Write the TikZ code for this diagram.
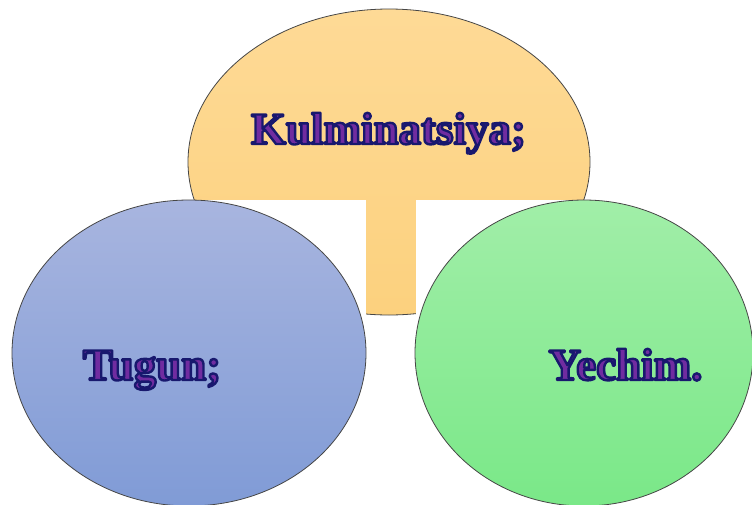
\documentclass[tikz,border=0pt]{standalone}
\usepackage{fontspec}
\setmainfont{Liberation Serif}
\definecolor{orgtop}{RGB}{254,218,150}
\definecolor{orgbot}{RGB}{252,209,126}
\definecolor{blutop}{RGB}{168,181,223}
\definecolor{blubot}{RGB}{128,155,214}
\definecolor{grntop}{RGB}{161,238,168}
\definecolor{grnbot}{RGB}{122,232,136}
\definecolor{txtfill}{RGB}{112,44,160}
\definecolor{edge}{RGB}{70,70,70}
\tikzset{
  bubble/.style={draw=edge, line width=0.8pt},
  label/.style={anchor=base, inner sep=0pt, font=\fontsize{45}{50}\selectfont\bfseries},
}
\newcommand{\outl}[1]{\textcolor{txtfill}{\special{pdf:literal direct 2 Tr 2.4 w 1 j 0.094 0.094 0.43 RG}#1\special{pdf:literal direct 0 Tr}}}
\begin{document}
\begin{tikzpicture}[x=1pt,y=-1pt]
\useasboundingbox (0,0) rectangle (752,504);
\fill[white] (0,0) rectangle (752,504);
% top orange bubble
\path[bubble, top color=orgtop, bottom color=orgbot] (389,162) ellipse [x radius=201, y radius=153];
\fill[white] (180,200) rectangle (366,330);
\fill[white] (416,200) rectangle (600,330);
% left and right bubbles
\path[bubble, top color=blutop, bottom color=blubot] (189,353) ellipse [x radius=177, y radius=153];
\path[bubble, top color=grntop, bottom color=grnbot] (584,353) ellipse [x radius=169, y radius=153];
\node[label] (kulm) at (388.5,144) {\outl{Kulminatsiya;}};
\node[label] (tugun) at (152,380) {\outl{Tugun;}};
\node[label] (yechim) at (625.5,380) {\outl{Yechim.}};
\end{tikzpicture}
\end{document}
